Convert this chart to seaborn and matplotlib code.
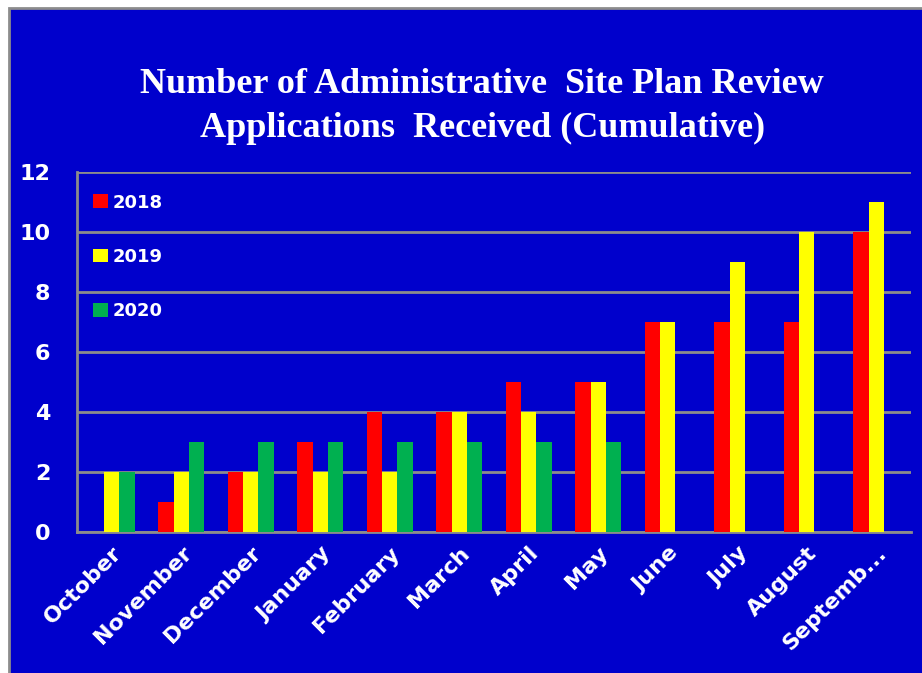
import numpy as np
import pandas as pd
import seaborn as sns
import matplotlib.pyplot as plt
from matplotlib.patches import Rectangle

# data
months = ['October', 'November', 'December', 'January', 'February', 'March',
          'April', 'May', 'June', 'July', 'August', 'Septemb...']
apps_2018 = [0, 1, 2, 3, 4, 4, 5, 5, 7, 7, 7, 10]
apps_2019 = [2, 2, 2, 2, 2, 4, 4, 5, 7, 9, 10, 11]
apps_2020 = [2, 3, 3, 3, 3, 3, 3, 3, np.nan, np.nan, np.nan, np.nan]
years = ['2018', '2019', '2020']

df = pd.DataFrame({'month': months, '2018': apps_2018, '2019': apps_2019, '2020': apps_2020})
df = df.melt(id_vars='month', var_name='year', value_name='count')

blue = '#0000CC'
gray = '#8C8C8C'
colors = {'2018': '#FF0000', '2019': '#FFFF00', '2020': '#00B050'}

sns.set_style('white')
fig = plt.figure(figsize=(9.22, 6.73), dpi=100, facecolor='white')
# blue chart area with gray border (offset like the screenshot)
fig.patches.append(Rectangle((9 / 922, -0.01), 1.02, 1 - 8 / 673 + 0.01,
                             transform=fig.transFigure, facecolor=blue,
                             edgecolor=gray, linewidth=2, zorder=-10))

ax = fig.add_axes([77 / 922, 1 - 532 / 673, (911 - 77) / 922, (532 - 172) / 673])
ax.set_facecolor(blue)

sns.barplot(data=df, x='month', y='count', hue='year', hue_order=years,
            palette=colors, width=0.66, saturation=1, ax=ax, zorder=3,
            errorbar=None, linewidth=0)

ax.set_ylim(0, 12)
ax.set_yticks(range(0, 13, 2))
ax.set_xlim(-0.5, len(months) - 0.5)
ax.grid(axis='y', color=gray, linewidth=2, zorder=0)
ax.set_axisbelow(True)
for side in ['top', 'right']:
    ax.spines[side].set_visible(False)
for side in ['left', 'bottom']:
    ax.spines[side].set_color(gray)
    ax.spines[side].set_linewidth(2)

# category-boundary ticks like Excel
ax.set_xticks(np.arange(len(months)))
ax.set_xticks(np.arange(-0.5, len(months)), minor=True)
ax.tick_params(axis='x', which='major', length=0, pad=8)
ax.tick_params(axis='x', which='minor', length=9, width=2, color=gray)
ax.tick_params(axis='y', length=9, width=2, color=gray, pad=10)
ax.set_xticklabels(months, rotation=45, ha='right', rotation_mode='anchor',
                   color='white', fontsize=16, fontweight='bold')
for lab in ax.get_yticklabels():
    lab.set_color('white')
    lab.set_fontsize(16)
    lab.set_fontweight('bold')
ax.set_xlabel('')
ax.set_ylabel('')

leg = ax.legend(loc='upper left', bbox_to_anchor=(0.0, 0.985), frameon=False,
                handlelength=0.8, handleheight=0.8, handletextpad=0.3,
                labelspacing=2.0, prop={'weight': 'bold', 'size': 13})
for t in leg.get_texts():
    t.set_color('white')
for h in leg.legend_handles:
    h.set_linewidth(0)

fig.text(0.523, 1 - 145 / 673, 'Number of Administrative  Site Plan Review\nApplications  Received (Cumulative)',
         ha='center', va='bottom', color='white', fontsize=26, fontweight='bold',
         family=['Liberation Serif', 'DejaVu Serif'], linespacing=1.42)

fig.savefig('out.png', dpi=100, facecolor='white')
